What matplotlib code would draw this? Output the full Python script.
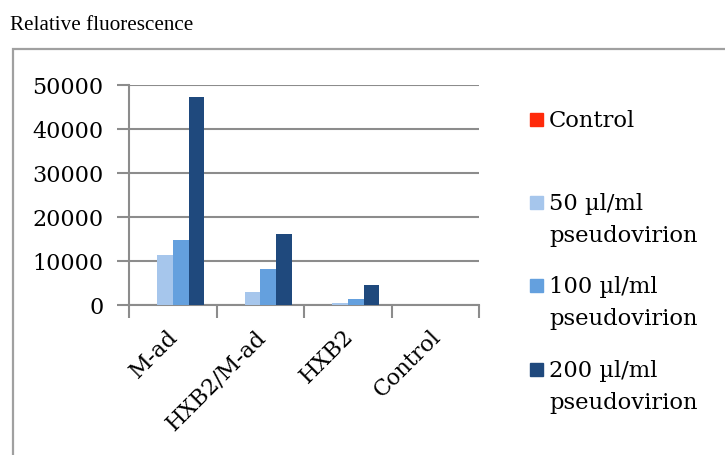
import numpy as np
import matplotlib.pyplot as plt
from matplotlib.patches import Rectangle

# fluorescence readings per construct and pseudovirion dose
categories = ["M-ad", "HXB2/M-ad", "HXB2", "Control"]
series_names = ["Control", "50 \u00b5l/ml\npseudovirion",
                "100 \u00b5l/ml\npseudovirion", "200 \u00b5l/ml\npseudovirion"]
control = [0, 0, 0, 0]
dose_50 = [11400, 2900, 500, 0]
dose_100 = [14800, 8100, 1400, 0]
dose_200 = [47200, 16100, 4600, 0]
yticks = [0, 10000, 20000, 30000, 40000, 50000]

colors = ["#ff2a0a", "#a6c6ec", "#64a0de", "#1f497d"]
grid_gray = "#8c8c8c"
serif = "DejaVu Serif"

fig = plt.figure(figsize=(7.25, 4.55), dpi=100)
ax = fig.add_axes([129 / 725, 150 / 455, 350 / 725, 220 / 455])

# outer chart frame, open to the right and bottom
fig.patches.append(Rectangle((12.5 / 725, -0.1), 1.2, 0.1 + (455 - 48.5) / 455,
                             transform=fig.transFigure, fill=False,
                             edgecolor="#a0a0a0", linewidth=1.6))
fig.text(10 / 725, 1 - 25 / 455, "Relative fluorescence", family="Liberation Serif",
         fontsize=15.2, va="center", ha="left")

x = np.arange(len(categories))
width = 0.18
all_series = [control, dose_50, dose_100, dose_200]
for i, vals in enumerate(all_series):
    ax.bar(x + (i - 1.5) * width, vals, width, color=colors[i], linewidth=0, zorder=3)

ax.set_xlim(-0.5, len(categories) - 0.5)
ax.set_ylim(0, 50000)
ax.set_yticks(yticks)
ax.set_yticklabels([str(v) for v in yticks], family=serif, fontsize=16)
ax.yaxis.grid(True, color=grid_gray, linewidth=1.5, zorder=0)
ax.tick_params(axis="y", length=9, width=1.5, color=grid_gray, pad=9.5)

# category boundary ticks on the x axis
ax.set_xticks(np.arange(len(categories) + 1) - 0.5)
ax.set_xticklabels([])
ax.tick_params(axis="x", length=9, width=1.5, color=grid_gray)
for xi, name in zip(x, categories):
    ax.annotate(name, xy=(xi, 0), xycoords=("data", "axes fraction"),
                xytext=(-4, -15), textcoords="offset points", rotation=45,
                ha="right", va="top", rotation_mode="anchor",
                family=serif, fontsize=16)

for side in ["top", "right"]:
    ax.spines[side].set_visible(False)
ax.spines["left"].set_color(grid_gray)
ax.spines["left"].set_linewidth(1.5)
ax.spines["bottom"].set_color(grid_gray)
ax.spines["bottom"].set_linewidth(1.5)

# legend entries stacked on the right
legend_y = [120, 203, 286, 370]
for name, col, ly in zip(series_names, colors, legend_y):
    fig.patches.append(Rectangle((530 / 725, 1 - (ly + 6) / 455), 13 / 725, 13 / 455,
                                 transform=fig.transFigure, color=col))
    fig.text(549 / 725, 1 - (ly - 10) / 455, name, family=serif, fontsize=16.3,
             ha="left", va="top", linespacing=1.6)

fig.savefig("out.png", dpi=100)
